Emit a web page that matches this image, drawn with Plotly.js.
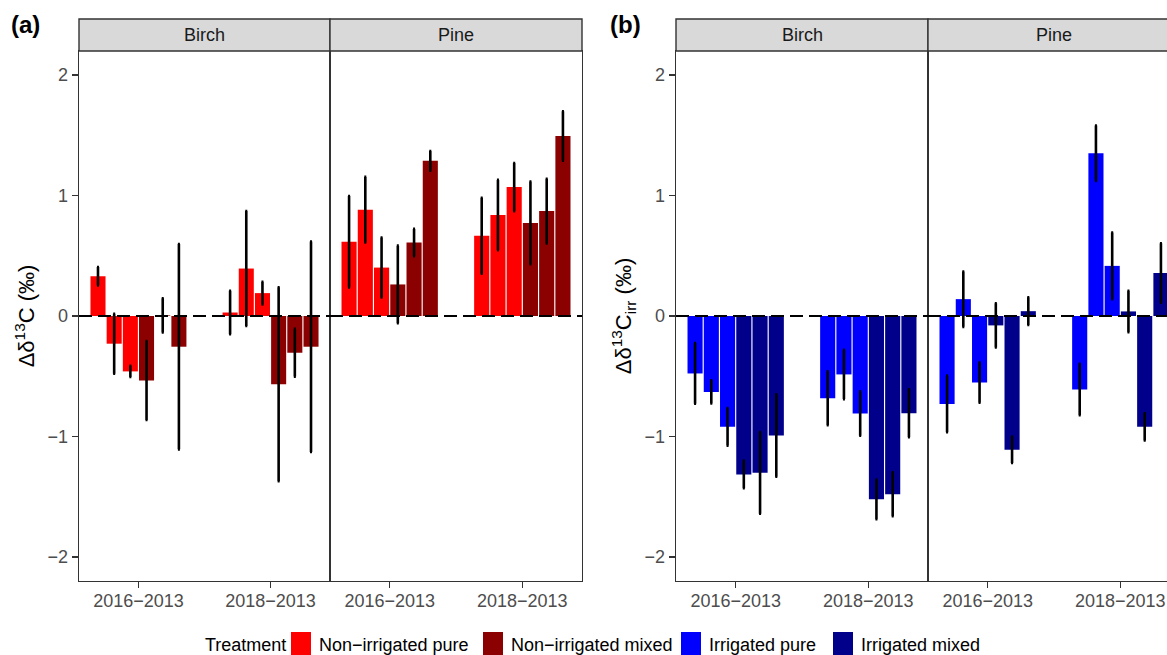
<!DOCTYPE html>
<html>
<head>
<meta charset="utf-8">
<script src="https://cdn.plot.ly/plotly-3.0.1.min.js"></script>
<style>
html,body{margin:0;padding:0;overflow:hidden;background:#ffffff;}
#chart{width:1190px;height:655px;}
</style>
</head>
<body>
<div id="chart"></div>
<script>
// ---------------- DATA ----------------
const yearPos = [1, 2];
const yearLabels = ["2016\u22122013", "2018\u22122013"];
const species = ["Birch", "Pine"];
const treatments = ["Non\u2212irrigated pure", "Non\u2212irrigated mixed", "Irrigated pure", "Irrigated mixed"];
const treatmentColors = ["#FF0000", "#8B0000", "#0000FF", "#00008B"];
// treatment index of the six bars in every group (3 pure, 3 mixed)
const barTreatmentA = [0, 0, 0, 1, 1, 1];
const barTreatmentB = [2, 2, 2, 3, 3, 3];

// Panel (a): Δδ13C
const aBirch2016 = [0.33, -0.23, -0.46, -0.535, 0.005, -0.255];
const aBirch2016Err = [0.076, 0.249, 0.047, 0.328, 0.142, 0.852];
const aBirch2018 = [0.029, 0.394, 0.19, -0.567, -0.305, -0.255];
const aBirch2018Err = [0.181, 0.477, 0.094, 0.805, 0.198, 0.874];
const aPine2016 = [0.616, 0.883, 0.402, 0.262, 0.61, 1.288];
const aPine2016Err = [0.38, 0.272, 0.249, 0.322, 0.113, 0.082];
const aPine2018 = [0.666, 0.838, 1.07, 0.773, 0.871, 1.495];
const aPine2018Err = [0.315, 0.292, 0.2, 0.343, 0.268, 0.205];

// Panel (b): Δδ13C_irr
const bBirch2016 = [-0.477, -0.63, -0.92, -1.315, -1.302, -0.992];
const bBirch2016Err = [0.252, 0.097, 0.156, 0.115, 0.339, 0.342];
const bBirch2018 = [-0.683, -0.485, -0.81, -1.522, -1.48, -0.807];
const bBirch2018Err = [0.224, 0.205, 0.184, 0.165, 0.183, 0.199];
const bPine2016 = [-0.73, 0.14, -0.553, -0.078, -1.11, 0.04];
const bPine2016Err = [0.235, 0.23, 0.167, 0.184, 0.11, 0.115];
const bPine2018 = [-0.61, 1.352, 0.416, 0.038, -0.92, 0.357];
const bPine2018Err = [0.213, 0.23, 0.277, 0.172, 0.113, 0.246];

// ---------------- LAYOUT GEOMETRY ----------------
const W = 1190, H = 655;
const FONT = "Liberation Sans, Arial, sans-serif";
const px2x = p => p / W;
const px2y = p => 1 - p / H;
const panelTop = 51, panelBottom = 581, stripTop = 19;
const facetPx = [[79, 330], [330, 582], [676, 928], [928, 1180]];

const subplots = [
  {ax: "", vals: [aBirch2016, aBirch2018], errs: [aBirch2016Err, aBirch2018Err], tr: barTreatmentA, label: species[0]},
  {ax: "2", vals: [aPine2016, aPine2018], errs: [aPine2016Err, aPine2018Err], tr: barTreatmentA, label: species[1]},
  {ax: "3", vals: [bBirch2016, bBirch2018], errs: [bBirch2016Err, bBirch2018Err], tr: barTreatmentB, label: species[0]},
  {ax: "4", vals: [bPine2016, bPine2018], errs: [bPine2016Err, bPine2018Err], tr: barTreatmentB, label: species[1]}
];

const traces = [];
subplots.forEach((sp) => {
  for (let k = 0; k < 6; k++) {
    const t = sp.tr[k];
    traces.push({
      type: "bar",
      x: yearPos,
      y: [sp.vals[0][k], sp.vals[1][k]],
      xaxis: "x" + sp.ax,
      yaxis: "y" + sp.ax,
      name: treatments[t],
      legendgroup: treatments[t],
      showlegend: false,
      marker: {color: treatmentColors[t], line: {width: 0}},
      error_y: {type: "data", array: [sp.errs[0][k], sp.errs[1][k]], visible: true,
                color: "#000000", thickness: 2.6, width: 1},
      hoverinfo: "y"
    });
  }
});

const layout = {
  width: W, height: H, autosize: false,
  margin: {l: 0, r: 0, t: 0, b: 0},
  paper_bgcolor: "#ffffff", plot_bgcolor: "#ffffff",
  font: {family: FONT, size: 18, color: "#4D4D4D"},
  barmode: "group", bargap: 0.265, bargroupgap: 0.07,
  showlegend: false,
  shapes: [], annotations: []
};

const yTitles = ["\u0394\u03B4<sup>13</sup>C (\u2030)", "\u0394\u03B4<sup>13</sup>C<sub>irr</sub> (\u2030)"];

subplots.forEach((sp, i) => {
  const dom = [px2x(facetPx[i][0]), px2x(facetPx[i][1])];
  const isLeft = (i % 2 === 0);
  layout["xaxis" + sp.ax] = {
    domain: dom, anchor: "y" + sp.ax, range: [0.55, 2.45],
    tickmode: "array", tickvals: yearPos, ticktext: yearLabels,
    ticks: "outside", ticklen: 6, tickwidth: 1.4, tickcolor: "#333333",
    ticklabelstandoff: -3,
    showline: true, mirror: true, linecolor: "#333333", linewidth: 1.4,
    showgrid: false, zeroline: false, fixedrange: true,
    tickfont: {family: FONT, size: 18, color: "#4D4D4D"}
  };
  const ya = {
    domain: [px2y(panelBottom), px2y(panelTop)], anchor: "x" + sp.ax,
    range: [-2.2, 2.2], tickmode: "array", tickvals: [-2, -1, 0, 1, 2],
    showline: true, mirror: true, linecolor: "#333333", linewidth: 1.4,
    showgrid: false, zeroline: false, fixedrange: true,
    tickfont: {family: FONT, size: 18, color: "#4D4D4D"}
  };
  if (isLeft) {
    ya.ticks = "outside"; ya.ticklen = 6; ya.tickwidth = 1.4; ya.tickcolor = "#333333";
    ya.showticklabels = true;
    ya.title = {text: yTitles[i / 2], font: {family: FONT, size: 22, color: "#000000"}, standoff: 6};
  } else {
    ya.ticks = ""; ya.showticklabels = false;
  }
  layout["yaxis" + sp.ax] = ya;

  // dashed zero line on top of bars
  layout.shapes.push({
    type: "line", xref: "x" + sp.ax + " domain", yref: "y" + sp.ax,
    x0: 0, x1: 1, y0: 0, y1: 0, layer: "above",
    line: {color: "#000000", width: 2, dash: "13px,6px"}
  });
  // facet strip
  layout.shapes.push({
    type: "rect", xref: "paper", yref: "paper",
    x0: dom[0], x1: dom[1], y0: px2y(panelTop), y1: px2y(stripTop),
    fillcolor: "#D9D9D9", line: {color: "#333333", width: 1.4}, layer: "above"
  });
  layout.annotations.push({
    xref: "paper", yref: "paper", x: (dom[0] + dom[1]) / 2, y: px2y((panelTop + stripTop) / 2),
    text: sp.label, showarrow: false, xanchor: "center", yanchor: "middle",
    font: {family: FONT, size: 18, color: "#1A1A1A"}
  });
});

// panel tags
[["(a)", 25], ["(b)", 625]].forEach(([t, xp]) => {
  layout.annotations.push({
    xref: "paper", yref: "paper", x: px2x(xp), y: px2y(25), text: "<b>" + t + "</b>",
    showarrow: false, xanchor: "center", yanchor: "middle",
    font: {family: FONT, size: 24, color: "#000000"}
  });
});

// legend (bottom, horizontal)
const legendY = 645;
layout.annotations.push({
  xref: "paper", yref: "paper", x: px2x(203), y: px2y(legendY), text: "Treatment",
  showarrow: false, xanchor: "left", yanchor: "middle",
  font: {family: FONT, size: 18, color: "#000000"}
});
const keyX = [291, 483, 681, 833];
treatments.forEach((t, i) => {
  layout.shapes.push({
    type: "rect", xref: "paper", yref: "paper",
    x0: px2x(keyX[i]), x1: px2x(keyX[i] + 20), y0: px2y(legendY + 10), y1: px2y(legendY - 13),
    fillcolor: treatmentColors[i], line: {width: 0}
  });
  layout.annotations.push({
    xref: "paper", yref: "paper", x: px2x(keyX[i] + 26), y: px2y(legendY), text: t,
    showarrow: false, xanchor: "left", yanchor: "middle",
    font: {family: FONT, size: 18, color: "#000000"}
  });
});

Plotly.newPlot("chart", traces, layout, {displayModeBar: false, staticPlot: true});
</script>
</body>
</html>
